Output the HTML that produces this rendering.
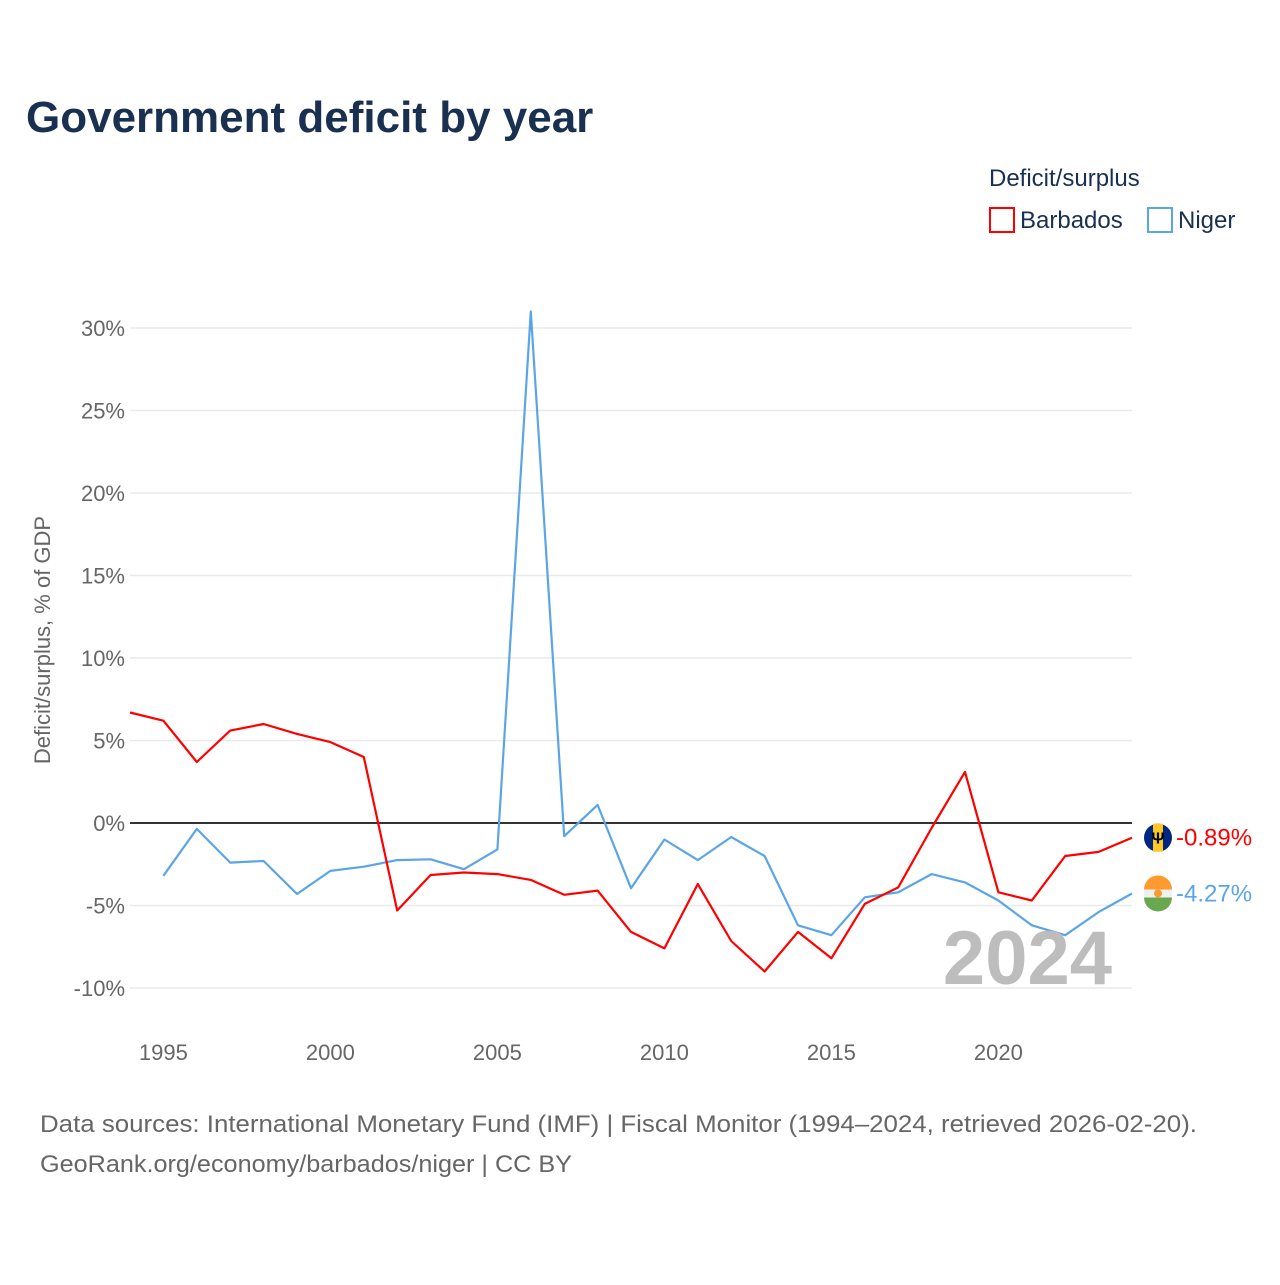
<!DOCTYPE html>
<html><head><meta charset="utf-8"><style>
body{margin:0;background:#fff;font-family:"Liberation Sans",sans-serif;}
</style></head><body>
<svg id="c" width="1280" height="1280" xmlns="http://www.w3.org/2000/svg">
<text x="26" y="132" font-size="44" font-weight="bold" fill="#1a3050">Government deficit by year</text>
<text x="989" y="186" font-size="24" fill="#1a3050">Deficit/surplus</text>
<g><rect x="990" y="208" width="24" height="24" fill="none" stroke="#ff0000" stroke-width="2"/><text x="1020" y="228" font-size="24" fill="#1a3050">Barbados</text></g>
<g><rect x="1148" y="208" width="24" height="24" fill="none" stroke="#5aa5e8" stroke-width="2"/><text x="1178" y="228" font-size="24" fill="#1a3050">Niger</text></g>
<text transform="translate(50,640) rotate(-90)" text-anchor="middle" font-size="22" fill="#666">Deficit/surplus, % of GDP</text>
<g id="grid"></g><g id="lines"></g>
<text x="1112" y="984" text-anchor="end" font-size="76" font-weight="bold" fill="#bdbdbd">2024</text>
<text x="40" y="1132" font-size="24" fill="#666" textLength="1157" lengthAdjust="spacingAndGlyphs">Data sources: International Monetary Fund (IMF) | Fiscal Monitor (1994–2024, retrieved 2026-02-20).</text>
<text x="40" y="1172" font-size="24" fill="#666" textLength="532" lengthAdjust="spacingAndGlyphs">GeoRank.org/economy/barbados/niger | CC BY</text>
</svg>
<script>
const years=[1994,1995,1996,1997,1998,1999,2000,2001,2002,2003,2004,2005,2006,2007,2008,2009,2010,2011,2012,2013,2014,2015,2016,2017,2018,2019,2020,2021,2022,2023,2024];
const barbados=[6.7,6.2,3.7,5.6,6.0,5.4,4.9,4.0,-5.3,-3.15,-3.0,-3.1,-3.45,-4.35,-4.1,-6.6,-7.6,-3.7,-7.15,-9.0,-6.6,-8.2,-4.9,-3.9,-0.3,3.1,-4.2,-4.7,-2.0,-1.75,-0.89];
const niger=[null,-3.2,-0.36,-2.4,-2.3,-4.3,-2.9,-2.65,-2.25,-2.2,-2.8,-1.6,31.0,-0.8,1.1,-3.95,-1.0,-2.25,-0.85,-2.0,-6.2,-6.8,-4.5,-4.2,-3.1,-3.6,-4.7,-6.2,-6.8,-5.4,-4.27];
const yTicks=[-10,-5,0,5,10,15,20,25,30];
const xTicks=[1995,2000,2005,2010,2015,2020];
const NS="http://www.w3.org/2000/svg";
const X=y=>130+(y-1994)*(1002/30);
const Y=v=>823-v*16.5;
function mk(tag,attrs,parent){const e=document.createElementNS(NS,tag);for(const k in attrs)e.setAttribute(k,attrs[k]);parent.appendChild(e);return e;}
const g=document.getElementById('grid'),L=document.getElementById('lines');
yTicks.forEach(t=>{
  const ln=mk('line',{x1:130,x2:1132,y1:Y(t),y2:Y(t),stroke:t===0?'#333':'#eaeaea','stroke-width':t===0?2:1.5},g);
  
  
  const tx=mk('text',{x:125,y:Y(t)+8,'text-anchor':'end','font-size':22,fill:'#666'},g);
  tx.textContent=t+'%';
  
  
});
xTicks.forEach(t=>{
  const tx=mk('text',{x:X(t),y:1060,'text-anchor':'middle','font-size':22,fill:'#666'},g);
  tx.textContent=t;
  
  
});
function line(vals,color,name){
  let d='';vals.forEach((v,i)=>{if(v===null)return;d+=(d?'L':'M')+X(years[i]).toFixed(1)+' '+Y(v).toFixed(1);});
  const p=mk('path',{d:d,fill:'none',stroke:color,'stroke-width':2.2,'stroke-linejoin':'round'},L);
  
  
}
line(niger,'#5aa5e8','line-niger');
line(barbados,'#ff0000','line-barbados');
function endLabel(v,color,name,flag){
  const y=Y(v[v.length-1]);
  const gg=mk('g',{},L);
  
  
  const cx=1158;
  if(flag==='b'){
    mk('circle',{cx:cx,cy:y,r:14,fill:'#00267f'},gg);
    mk('rect',{x:cx-5,y:y-14,width:10,height:28,fill:'#ffc726'},gg);
    const t=mk('text',{x:cx,y:y+6,'text-anchor':'middle','font-size':16,'font-weight':'bold',fill:'#000'},gg);t.textContent='Ψ';
  }else{
    mk('circle',{cx:cx,cy:y,r:14,fill:'#f0f0f0'},gg);
    mk('path',{d:`M${cx-14} ${y-4}A14 14 0 0 1 ${cx+14} ${y-4}Z`,fill:'#ff9a2e'},gg);
    mk('path',{d:`M${cx-14} ${y+4}A14 14 0 0 0 ${cx+14} ${y+4}Z`,fill:'#6aa84f'},gg);
    mk('circle',{cx:cx,cy:y,r:4,fill:'#ff9a2e'},gg);
  }
  const t=mk('text',{x:1176,y:y+8,'font-size':24,fill:color},gg);
  t.textContent=v[v.length-1].toFixed(2)+'%';
}
endLabel(barbados,'#ff0000','end-label-barbados','b');
endLabel(niger,'#5aa5e8','end-label-niger','n');
</script>
</body></html>
